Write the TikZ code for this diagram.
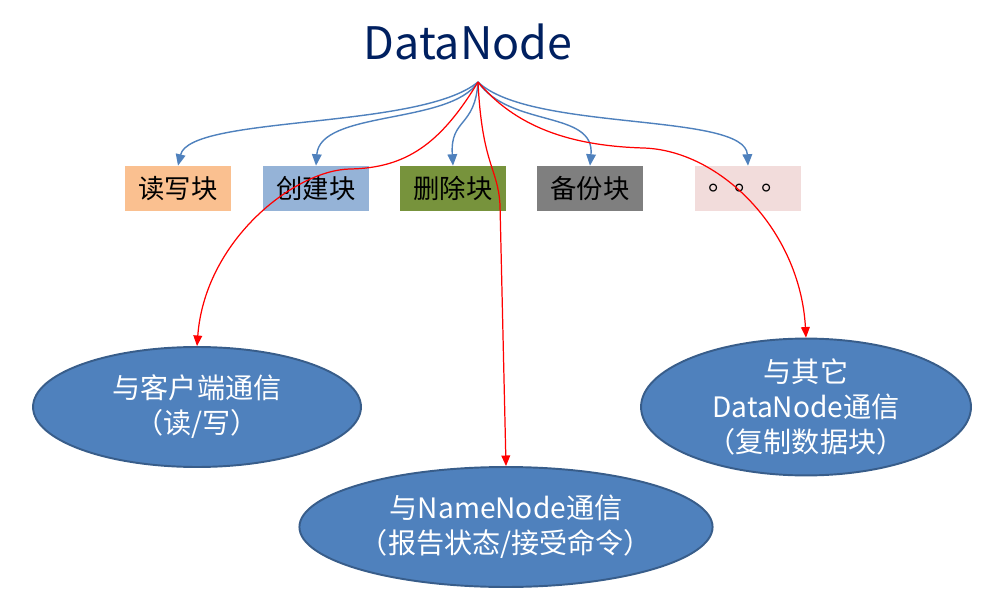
\documentclass[tikz,border=0pt]{standalone}
\usepackage{fontspec}
\setmainfont{Noto Sans CJK SC}
\usetikzlibrary{arrows.meta,shapes.geometric}
\definecolor{titleblue}{HTML}{002060}
\definecolor{linkblue}{HTML}{4F81BD}
\definecolor{ellline}{HTML}{385D8A}
\definecolor{readfill}{HTML}{FAC090}
\definecolor{createfill}{HTML}{95B3D7}
\definecolor{delfill}{HTML}{77933C}
\definecolor{bakfill}{HTML}{7F7F7F}
\definecolor{morefill}{HTML}{F2DCDB}
\begin{document}
\begin{tikzpicture}[x=0.02cm, y=-0.02cm,
    blk/.style={rectangle, minimum width=2.12cm, minimum height=0.9cm, inner sep=0pt, font=\fontsize{15}{18}\selectfont},
    comm/.style={ellipse, draw=ellline, line width=1.1pt, fill=linkblue, text=white, inner sep=0pt, align=center, font=\fontsize{16}{20}\selectfont},
    bluelink/.style={draw=linkblue, line width=0.8pt, -{Triangle[length=6.5pt,width=5.5pt]}},
    redlink/.style={draw=red, line width=0.7pt, -{Triangle[length=6pt,width=5pt]}}]
    \useasboundingbox (0,0) rectangle (982,607);
    \node [text=titleblue, font=\fontsize{25.5}{30}\selectfont] (title) at (468,42) {DataNode};
    \coordinate (src) at (478,82);
    \node [blk, fill=readfill] (rw) at (178,188.5) {读写块};
    \node [blk, fill=createfill] (create) at (316,188.5) {创建块};
    \node [blk, fill=delfill] (delete) at (453,188.5) {删除块};
    \node [blk, fill=bakfill] (backup) at (590,188.5) {备份块};
    \node [blk, fill=morefill] (more) at (748,188.5) {。。。};
    \node [comm, minimum width=6.56cm, minimum height=2.4cm] (client) at (197,407) {与客户端通信\\（读/写）};
    \node [comm, minimum width=8.16cm, minimum height=2.4cm] (namenode) at (506,527) {与NameNode通信\\（报告状态/接受命令）};
    \node [comm, minimum width=6.6cm, minimum height=2.4cm] (peer) at (806,407) {与其它\\DataNode通信\\（复制数据块）};
    \coordinate (bendL) at (350,169);
    \coordinate (bendM) at (500,205);
    \coordinate (bendR) at (643,148);

    \draw [bluelink] (src) .. controls (420,130) and (190,115) .. (rw.north);
    \draw [bluelink] (src) .. controls (450,125) and (320,110) .. (create.north);
    \draw [bluelink] (src) .. controls (475,128) and (450,118) .. (delete.north);
    \draw [bluelink] (src) .. controls (510,128) and (595,110) .. (backup.north);
    \draw [bluelink] (src) .. controls (530,132) and (745,112) .. (more.north);

    \draw [redlink] (src) .. controls (440,145) and (405,168) .. (bendL) .. controls (295,170) and (205,240) .. (client.north);
    \draw [redlink] (src) .. controls (482,165) and (498,168) .. (bendM) -- (namenode.north);
    \draw [redlink] (src) .. controls (520,132) and (580,146) .. (bendR) .. controls (720,150) and (800,230) .. (peer.north);
\end{tikzpicture}
\end{document}
